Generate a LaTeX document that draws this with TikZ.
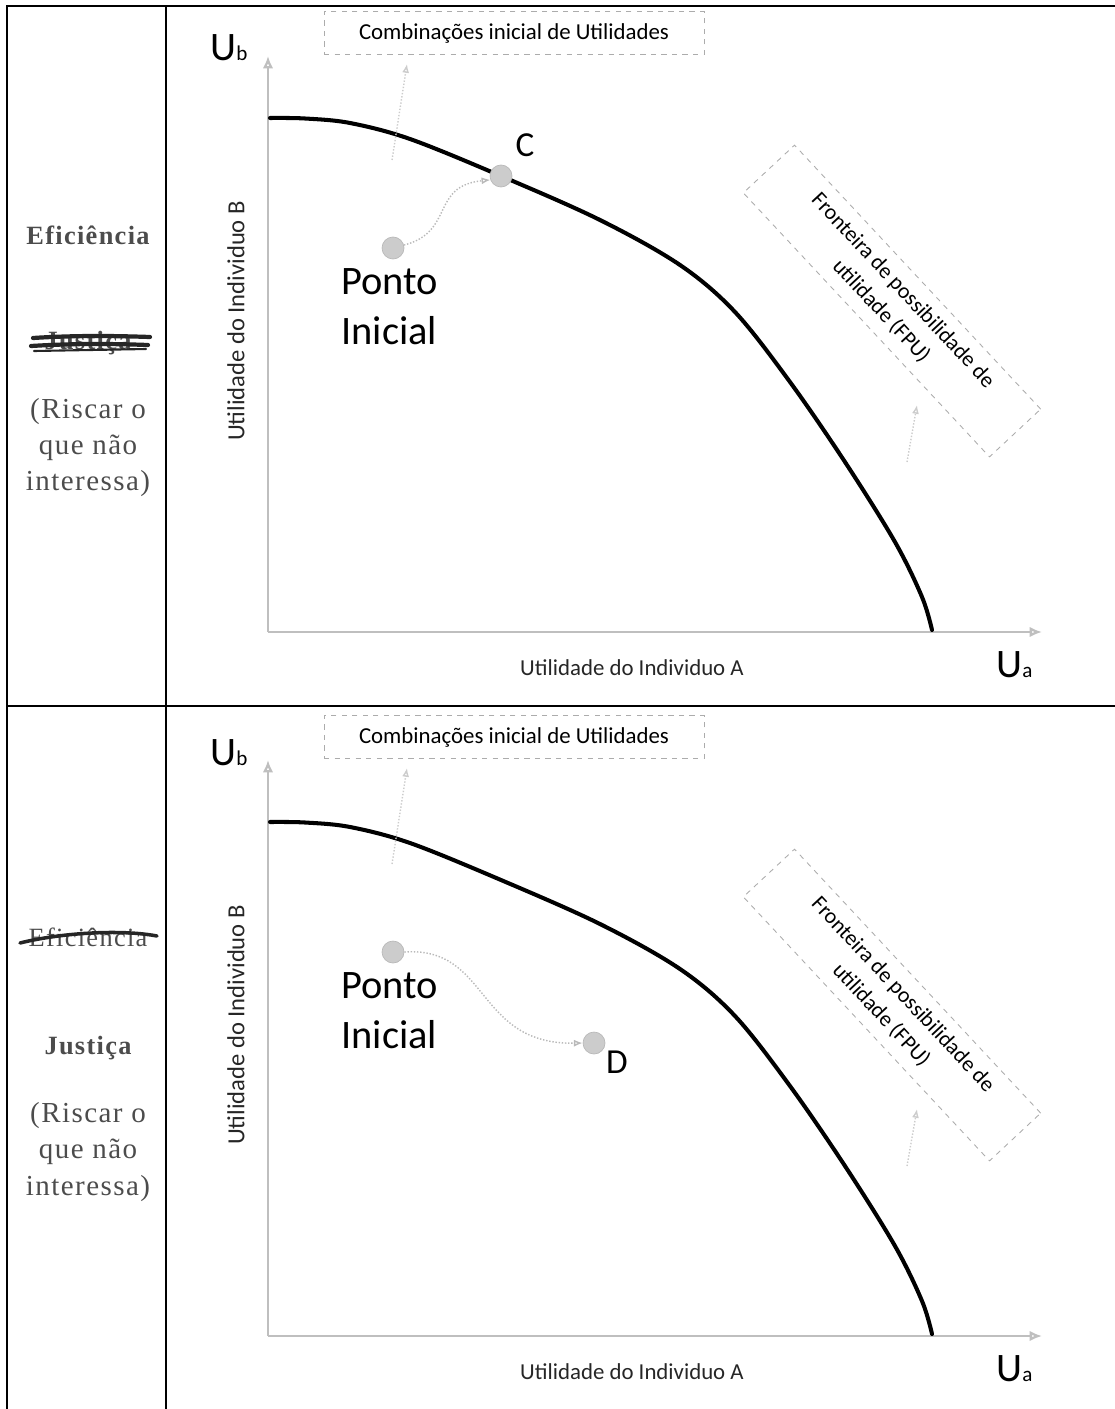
\documentclass[tikz,border=0pt]{standalone}
\usepackage{fontspec}
\setmainfont{Liberation Serif}
\newfontfamily\chartfont{Carlito}
\newfontfamily\colfont[LetterSpace=5]{Liberation Serif}
\usetikzlibrary{arrows.meta, positioning, calc}

\begin{document}
\begin{tikzpicture}[x=0.02cm, y=-0.02cm,
  grid/.style={line width=1pt},
  axis/.style={gray!50, line width=1.3pt, -{Latex[open, length=7pt, width=6pt]}},
  frontier/.style={line width=2.3pt, line cap=round},
  dot/.style={circle, fill=gray!40, draw=gray!55, minimum size=0.44cm, inner sep=0pt},
  callout/.style={draw=gray!65, dashed, line width=0.5pt, inner sep=0pt, align=center, font=\chartfont\fontsize{13}{16}\selectfont},
  lead/.style={gray!55, densely dotted, line width=0.8pt, -{Latex[open, length=5pt, width=4pt]}},
  big/.style={font=\chartfont\fontsize{23}{28.5}\selectfont, align=left, inner sep=0pt},
  axlabel/.style={font=\chartfont\fontsize{13}{15}\selectfont, text=black!85},
  coltxt/.style={font=\colfont\fontsize{16.5}{20.5}\selectfont, align=center, text=black!70},
  colhead/.style={font=\colfont\bfseries\fontsize{15}{18}\selectfont, text=black!70},
  scratch/.style={line width=2.4pt, line cap=round, black!85}]
  \useasboundingbox (0,0) rectangle (1115,1409);
  % table
  \draw[grid] (7,1409) |- (1115,6);
  \draw[grid] (166,6) -- (166,1409);
  \draw[grid] (7,706) -- (1115,706);

  % left column
  \node[colhead] (efit) at (88,235) {Eficiência};
  \node[colhead] (just) at (88,343) {Justiça};
  \node[coltxt] (riscart) at (88,448) {(Riscar o\\que não\\interessa)};
  \draw[scratch] (33,338) .. controls (80,335) and (120,336) .. (150,337);
  \draw[scratch] (31,346) .. controls (80,343) and (120,344) .. (148,345);
  \draw[scratch, line width=1.2pt] (34,351) -- (146,349);
  \node[colhead, font=\colfont\fontsize{15}{18}\selectfont] (efib) at (88,937) {Eficiência};
  \node[colhead] (jusb) at (88,1048) {Justiça};
  \node[coltxt] (riscarb) at (88,1152) {(Riscar o\\que não\\interessa)};
  \draw[scratch, line width=2pt] (20,943) .. controls (60,933) and (120,929) .. (157,936);

  % both panels
  \foreach \p/\dy in {t/0, b/704}{
    \begin{scope}[shift={(0,\dy)}]
      \coordinate (o\p) at (268,632);
      \coordinate (ytop\p) at (268,56);
      \coordinate (xend\p) at (1042,632);
      \draw[axis] (o\p) -- (ytop\p);
      \draw[axis] (o\p) -- (xend\p);
      \node[anchor=base west, inner sep=0pt, font=\chartfont] (ub\p) at (210,61)
        {{\fontsize{23}{23}\selectfont U}{\fontsize{12}{12}\selectfont b}};
      \node[anchor=base west, inner sep=0pt, font=\chartfont] (ua\p) at (996,677)
        {{\fontsize{23}{23}\selectfont U}{\fontsize{12}{12}\selectfont a}};
      \node[axlabel] (labA\p) at (632,668) {Utilidade do Individuo A};
      \node[axlabel, font=\chartfont\fontsize{14}{16}\selectfont, rotate=90] (labB\p) at (236,321) {Utilidade do Individuo B};
      \draw[frontier] plot[smooth, tension=0.55] coordinates
        {(270,118) (305,118.5) (350,123) (410,139) (501,176) (600,220) (680,265) (735,312)
         (790,382) (845,462) (895,542) (922,597) (932,630)};
      \node[callout, minimum width=7.6cm, minimum height=0.86cm] (comb\p) at (514,33)
        {Combinações inicial de Utilidades};
      \coordinate (combtail\p) at (392,160);
      \coordinate (combtip\p) at (407,64);
      \draw[lead, gray!40] (combtail\p) -- (combtip\p);
      \node[callout, rotate=-47, minimum width=7.22cm, minimum height=1.4cm,
        font=\chartfont\fontsize{12.5}{17}\selectfont] (fpu\p) at (892,301)
        {Fronteira de possibilidade de\\utilidade (FPU)};
      \coordinate (fputail\p) at (907,462);
      \coordinate (fputip\p) at (917,405);
      \draw[lead, gray!40] (fputail\p) -- (fputip\p);
      \node[dot] (p0\p) at (393,248) {};
      \node[big, anchor=west] (pi\p) at (341,307) {Ponto\\Inicial};
    \end{scope}
  }

  % top panel: point C on the frontier
  \node[dot] (ptc) at (501,176) {};
  \node[font=\chartfont\fontsize{20}{20}\selectfont, inner sep=0pt] (lc) at (525,145) {C};
  \draw[lead] (p0t.15) .. controls (455,232) and (430,186) .. (ptc.200);

  % bottom panel: point D inside
  \node[dot] (ptd) at (594,1043) {};
  \node[font=\chartfont\fontsize{20}{20}\selectfont, inner sep=0pt] (ld) at (617,1062) {D};
  \draw[lead] (p0b.east) .. controls (490,946) and (475,1045) .. (ptd.west);
\end{tikzpicture}
\end{document}
